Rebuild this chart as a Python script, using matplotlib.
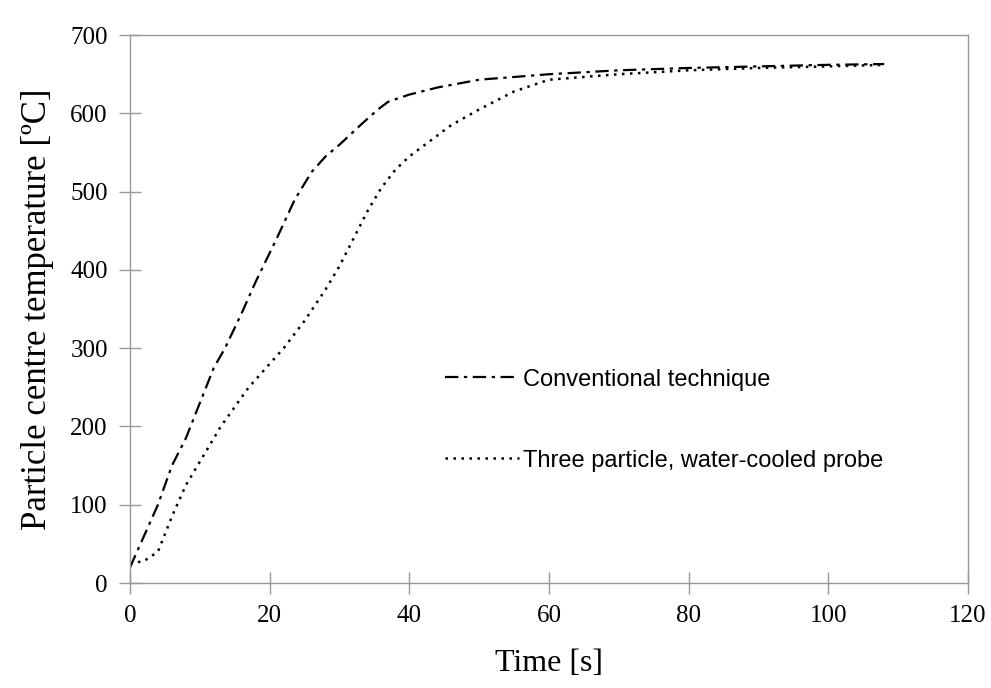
import matplotlib
matplotlib.use("Agg")
import matplotlib.pyplot as plt
import numpy as np

conv_t = [0, 2, 4, 6, 8, 10, 12, 13.6, 16, 18, 21, 23.6, 26, 28, 30, 33, 35.5, 37, 40, 44, 50, 60, 70, 80, 90, 100, 108]
conv_T = [20, 60, 100, 150, 185, 230, 275, 300, 345, 385, 440, 490, 525, 545, 560, 585, 605, 615, 624, 633, 643, 650, 655, 658, 660, 662, 663]

probe_t = [0, 2, 4, 6, 8, 10, 13, 17, 22, 25, 28, 30, 32, 34, 36, 38, 40, 43, 46, 50, 55, 60, 70, 80, 90, 100, 108]
probe_T = [25, 28, 40, 85, 125, 155, 200, 250, 300, 335, 375, 405, 440, 475, 505, 528, 545, 565, 585, 605, 628, 643, 650, 655, 658, 660, 662]

xticks = [0, 20, 40, 60, 80, 100, 120]
yticks = [0, 100, 200, 300, 400, 500, 600, 700]

fig = plt.figure(figsize=(9.91, 6.88), dpi=100)
ax = fig.add_axes([0.1312, 0.1526, 0.8456, 0.7964])

ax.plot(conv_t, conv_T, color="black", lw=1.6, linestyle=(0, (6, 2.5, 1.5, 2.5)),
        label="Conventional technique")
ax.plot(probe_t, probe_T, color="black", lw=1.8, linestyle=(0, (1, 2.2)),
        label="Three particle, water-cooled probe")

ax.set_xlim(0, 120)
ax.set_ylim(0, 700)
ax.set_xticks(xticks)
ax.set_yticks(yticks)
for s in ax.spines.values():
    s.set_color("#999999")
    s.set_linewidth(1.0)
ax.tick_params(direction="inout", length=16, width=1.0, color="#999999",
               labelsize=18)
ax.tick_params(axis="x", pad=8)
ax.tick_params(axis="y", pad=8)
for lab in ax.get_xticklabels() + ax.get_yticklabels():
    lab.set_family("Liberation Serif")

ax.set_xlabel("Time [s]", fontsize=23, family="Liberation Serif", labelpad=16)
ax.set_ylabel("Particle centre temperature [ºC]", fontsize=25, family="Liberation Serif", labelpad=12)

leg = ax.legend(loc="upper left", bbox_to_anchor=(0.351, 0.43), frameon=False,
                prop={"family": "Liberation Sans", "size": 17}, handlelength=3.1,
                handletextpad=0.2, labelspacing=2.5)

fig.savefig("out.png", dpi=100)
